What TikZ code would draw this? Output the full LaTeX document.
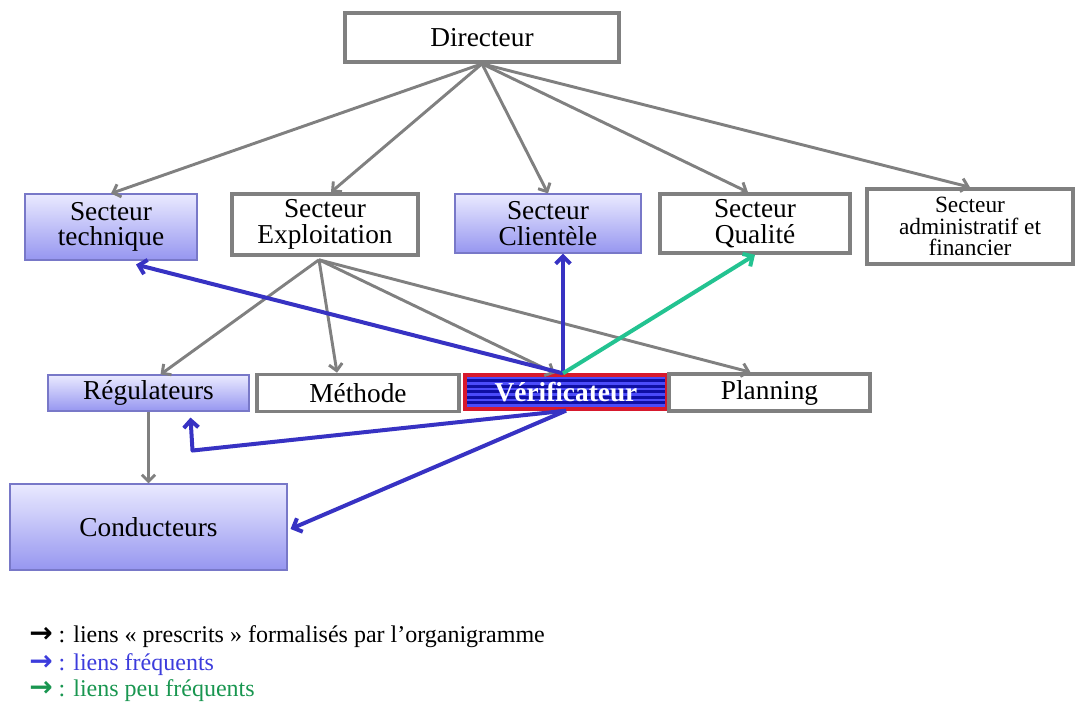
\documentclass[tikz,border=0pt]{standalone}
\usepackage{fontspec}
\setmainfont{Liberation Serif}
\newfontfamily\arrowfont{DejaVu Sans}
\usetikzlibrary{arrows.meta,calc}
\definecolor{edgegray}{RGB}{128,128,128}
\definecolor{linkblue}{RGB}{55,50,195}
\definecolor{linkgreen}{RGB}{35,195,145}
\definecolor{boxtop}{RGB}{234,234,255}
\definecolor{boxbot}{RGB}{150,150,240}
\definecolor{boxline}{RGB}{120,120,200}
\definecolor{verdark}{RGB}{15,15,165}
\definecolor{verlight}{RGB}{75,75,250}
\definecolor{verred}{RGB}{215,25,45}
\definecolor{legblue}{RGB}{60,60,220}
\definecolor{leggreen}{RGB}{25,150,80}
\begin{document}
\begin{tikzpicture}[x=0.75pt,y=-0.75pt,
  wh/.style 2 args={minimum width=#1*0.75pt,minimum height=#2*0.75pt},
  base/.style={inner sep=0pt,align=center,font=\fontsize{20.5}{19}\selectfont},
  gbox/.style={base,draw=edgegray,line width=2.7pt,fill=white},
  bbox/.style={base,draw=boxline,line width=0.8pt,top color=boxtop,bottom color=boxbot},
  verbox/.style={base,draw=verred,line width=2.5pt,fill=verdark,text=white,
    font=\fontsize{20.5}{19}\selectfont\bfseries,
    path picture={\foreach \k in {0,...,6}{\draw[verlight,line width=2pt]
      ($(path picture bounding box.north west)+(0,\k*5.5+3)$) -- ++(300,0);}}},
  garrow/.style={draw=edgegray,line width=2.2pt,-{Straight Barb[length=5pt,width=10pt]}},
  barrow/.style={draw=linkblue,line width=3pt,line join=round,-{Straight Barb[length=5.5pt,width=11pt]}},
  grarrow/.style={barrow,draw=linkgreen},
  legend/.style={anchor=west,inner sep=0pt,font=\fontsize{18}{20}\selectfont},
  legarrow/.style={font=\arrowfont\bfseries\fontsize{21}{20}\selectfont}
]
\useasboundingbox (0,0) rectangle (1076,707);

% boxes
\node[gbox,wh={274}{49}] (dir) at (482,37.5) {Directeur};
\node[bbox,wh={172}{66}] (tech) at (111,227) {Secteur\\technique};
\node[gbox,wh={186}{61}] (expl) at (325,224.5) {Secteur\\Exploitation};
\node[bbox,wh={186}{59}] (cli) at (548,223.5) {Secteur\\Clientèle};
\node[gbox,wh={190}{59}] (qual) at (755,223.5) {Secteur\\Qualité};
\node[gbox,wh={206}{75},font=\fontsize{17.5}{16}\selectfont] (adm) at (970,226.5) {Secteur\\administratif et\\financier};
\node[bbox,wh={201}{36}] (reg) at (148.5,393) {Régulateurs};
\node[gbox,wh={202}{37}] (meth) at (358,393) {Méthode};
\node[verbox,wh={202}{34}] (ver) at (566,392) {Vérificateur};
\node[gbox,wh={201}{37}] (plan) at (769.5,392.5) {Planning};
\node[bbox,wh={277}{86}] (cond) at (148.5,527) {Conducteurs};

% prescribed links
\draw[garrow] (dir.south) -- (tech.north);
\draw[garrow] (dir.south) -- ($(expl.north)+(6,0)$);
\draw[garrow] (dir.south) -- (cli.north);
\draw[garrow] (dir.south) -- ($(qual.north)+(-7,0)$);
\draw[garrow] (dir.south) -- (adm.north);
\coordinate (ex) at ($(expl.south)+(-6,3)$);
\draw[garrow] (ex) -- ($(reg.north)+(12,0)$);
\draw[garrow] (ex) -- ($(meth.north)+(-21,0)$);
\draw[garrow] (ex) -- ($(ver.north)+(-11,0)$);
\draw[garrow] (ex) -- ($(plan.north)+(-19,0)$);
\draw[garrow] (reg.south) -- (cond.north);

% frequent links
\coordinate (vt) at ($(ver.north)+(-3,0)$);
\coordinate (vb) at (ver.south);
\draw[barrow] (vt) -- ($(tech.south)+(25,4)$);
\draw[barrow] (vt) -- (vt |- cli.south);
\draw[grarrow] (vt) -- (qual.south);
\draw[barrow] (vb) -- ($(reg.south)+(44,39)$) -- ($(reg.south)+(42,6)$);
\draw[barrow] (vb) -- ($(cond.east)+(3,2)$);

% legend
\node[legend] (l1) at (29,637) {{\arrowfont\bfseries\fontsize{21}{20}\selectfont →} : liens « prescrits » formalisés  par l’organigramme};
\node[legend,text=legblue] (l2) at (29,665) {{\arrowfont\bfseries\fontsize{21}{20}\selectfont →} : liens fréquents};
\node[legend,text=leggreen] (l3) at (29,691) {{\arrowfont\bfseries\fontsize{21}{20}\selectfont →} : liens peu fréquents};
\end{tikzpicture}
\end{document}
